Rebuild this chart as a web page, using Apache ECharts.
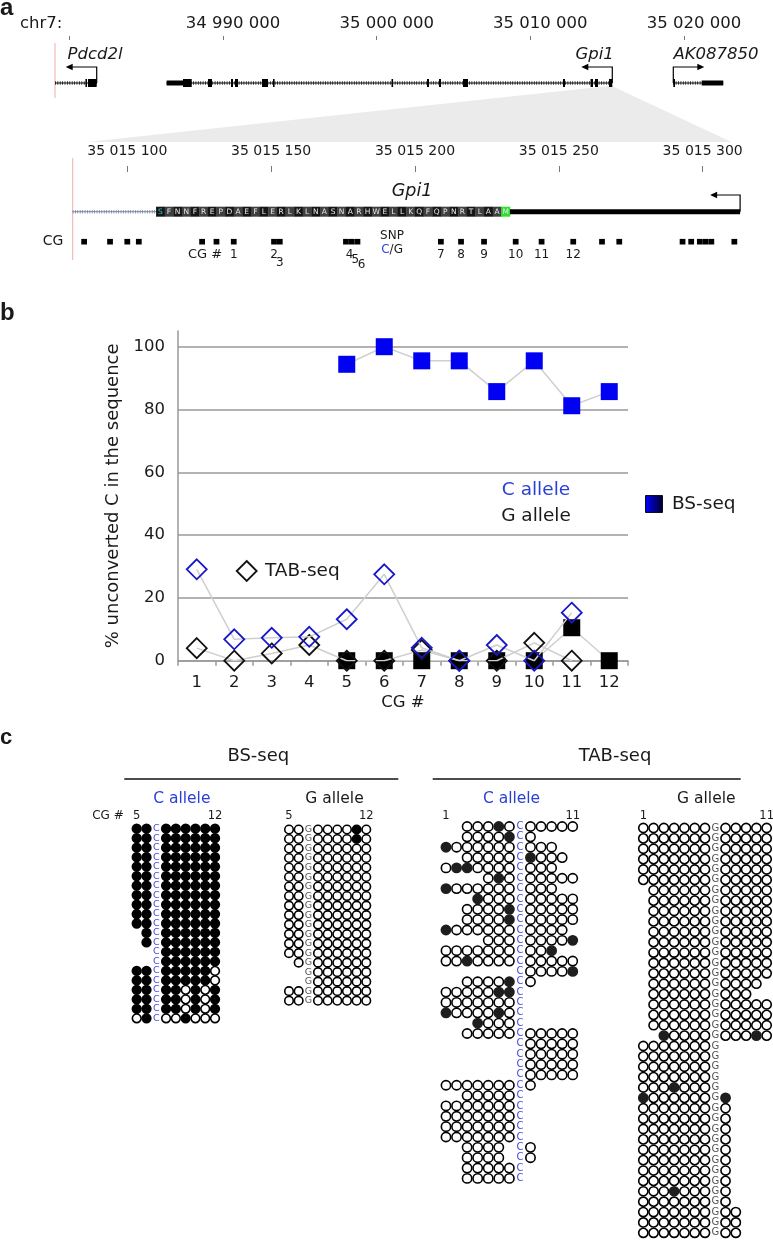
<!DOCTYPE html>
<html><head><meta charset="utf-8">
<script src="https://cdn.jsdelivr.net/npm/echarts@6.0.0/dist/echarts.min.js"></script>
<style>html,body{margin:0;padding:0;background:#fff}#c{width:773px;height:1240px}</style>
</head><body><div id="c"></div>
<script>
// ================= DATA =================
// Panel a – genome overview (chr7, bp)
const topTicks = [34980000, 34990000, 35000000, 35010000, 35020000];
const topTickLabels = [34990000, 35000000, 35010000, 35020000];
const viewStart = 34979070;
const geneNames = ['Pdcd2l', 'Gpi1', 'AK087850'];
const geneStrands = ['-', '-', '+'];
const geneSpans = [[34979070, 34981783], [34986338, 35015335], [35019305, 35022558]];
const geneLabelAt = [34981672, 35014190, 35022083];
const geneExons = [
  [[34981050, 34981130, 'c'], [34981217, 34981783, 'c']],
  [[34986338, 34987399, 'u'], [34987399, 34987965, 'c'], [34989026, 34989286, 'c'], [34990522, 34990653, 'c'],
   [34990783, 34990978, 'c'], [34992540, 34992930, 'c'], [34993256, 34993353, 'c'], [35000967, 35001065, 'c'],
   [35003277, 35003407, 'c'], [35004058, 35004188, 'c'], [35005620, 35005945, 'c'], [35012127, 35012257, 'c'],
   [35013917, 35014080, 'c'], [35014209, 35014405, 'c'], [35015121, 35015335, 'c']],
  [[35019305, 35019416, 'c'], [35021153, 35022558, 'u']]
];
const zoomRegion = [35015086, 35015310];

// Panel a – zoomed Gpi1 5' region
const zoomTicks = [35015100, 35015150, 35015200, 35015250, 35015300];
const zoomStart = 35015081;
const cdsStart = 35015110;
const cdsEnd = 35015233;
const exonEnd = 35015313;
const zoomLabelAt = 35015199;
const aminoAcids = 'SFNNFREPDAEFLERLKLNASNARHWELLKQFQPNRTLAAM';
const cgUnnumbered = [35015084, 35015093, 35015099, 35015103, 35015125, 35015130, 35015264, 35015270,
  35015292, 35015295, 35015298, 35015300, 35015302, 35015310];
const cgNumbered = [35015136, 35015150, 35015152, 35015175, 35015177, 35015179, 35015208, 35015215,
  35015223, 35015234, 35015243, 35015254];
const cgNumberLabels = ['1', '2', '3', '4', '5', '6', '7', '8', '9', '10', '11', '12'];
const cgHashAt = 35015127;
const snpPos = 35015192;

// Panel b – % unconverted C
const cgCategories = ['1', '2', '3', '4', '5', '6', '7', '8', '9', '10', '11', '12'];
const yTicks = [0, 20, 40, 60, 80, 100];
const bsC = [null, null, null, null, 94.4, 100, 95.5, 95.5, 85.7, 95.5, 81.2, 85.7];
const bsG = [null, null, null, null, 0, 0, 0, 0, 0, 0, 10.5, 0];
const tabC = [29.1, 6.8, 7.3, 7.6, 13.2, 27.5, 4.1, 0, 5.0, 0, 15.3, null];
const tabG = [4.0, 0, 2.3, 5.0, 0, 0, 3.4, 0, 0, 5.7, 0, null];

// Panel c – clone-by-clone methylation ('x' methylated, 'o' unmethylated, '.' no data, '|' SNP base)
const bsCRows = [
  'xx|xxxxxx', 'xx|xxxxxx', 'xx|xxxxxx', 'xx|xxxxxx', 'xx|xxxxxx', 'xx|xxxxxx', 'xx|xxxxxx',
  'xx|xxxxxx', 'xx|xxxxxx', 'xx|xxxxxx', 'xx|xxxxxx', '.x|xxxxxx', '.x|xxxxxx', '..|xxxxxx',
  '..|xxxxxx', 'xx|xxxxxo', 'xx|xxxxxo', 'xx|xxoxox', 'xx|xxoxox', 'xx|xxoxox', 'ox|ooxooo'
];
const bsGRows = [
  'oo|ooooxo', 'oo|ooooxo', 'oo|oooooo', 'oo|oooooo', 'oo|oooooo', 'oo|oooooo', 'oo|oooooo',
  'oo|oooooo', 'oo|oooooo', 'oo|oooooo', 'oo|oooooo', 'oo|oooooo', 'oo|oooooo', 'oo|oooooo',
  '.o|oooooo', '..|oooooo', '..|oooooo', 'oo|oooooo', 'oo|oooooo'
];
const tabCRows = [
  '..oooxo|ooooo', '..oooox|o....', 'xoooooo|ooo..', '..ooooo|xooo.', 'oxxoooo|ooo..',
  '....oxo|ooooo', 'xoooooo|ooo..', '...xooo|ooooo', '..oooox|ooooo', '..oooox|ooooo',
  'xoooooo|oooo.', '....ooo|oooox', 'ooooooo|oox..', 'ooxoooo|ooooo', '.......|oooox',
  '..oooox|o....', 'oooooxx|.....', 'ooooooo|.....', 'xooooxo|.....', '...xooo|.....',
  '..ooooo|ooooo', '.......|ooooo', '.......|ooooo', '.......|ooooo', '.......|ooooo',
  'ooooooo|o....', '..ooooo|.....', 'ooooooo|.....', 'ooooooo|.....', 'ooooooo|.....',
  'ooooooo|.....', '..oooo.|o....', '..oooo.|o....', '..ooooo|.....', '..ooooo|.....'
];
const tabGRows = [
  'ooooooo|ooooo', 'ooooooo|ooooo', 'ooooooo|ooooo', 'ooooooo|ooooo', 'ooooooo|ooooo',
  'ooooooo|ooooo', '.oooooo|ooooo', '.oooooo|ooooo', '.oooooo|ooooo', '.oooooo|ooooo',
  '.oooooo|ooooo', '.oooooo|ooooo', '.oooooo|ooooo', '.oooooo|ooooo', '.oooooo|ooooo',
  '.oooooo|oooo.', '.oooooo|ooo..', '.oooooo|ooooo', '.oooooo|ooooo', '.oooooo|ooooo',
  '..xoooo|oooxo', 'ooooooo|.....', 'ooooooo|.....', 'ooooooo|.....', 'ooooooo|.....',
  'oooxooo|.....', 'xoooooo|x....', 'ooooooo|o....', 'ooooooo|o....', 'ooooooo|o....',
  'ooooooo|o....', 'ooooooo|o....', 'ooooooo|o....', 'ooooooo|o....', 'ooooooo|o....',
  'oooxooo|o....', 'ooooooo|o....', 'ooooooo|oo...', 'ooooooo|oo...', 'ooooooo|oo...'
];

// ================= LAYOUT / RENDER =================
const FONT = '"DejaVu Sans", sans-serif';
const chart = echarts.init(document.getElementById('c'), null, { renderer: 'canvas', width: 773, height: 1240 });
const fmtBp = v => String(Math.round(v)).replace(/\B(?=(\d{3})+(?!\d))/g, ' ');

const K0 = 153.67 / 10000, topMin = 34978000, topMax = 35025000;
const K1 = 2.877, zMin = 35015060, zMax = 35015325;

const blocks = [
  { rows: bsCRows, letter: 'C', lc: '#4848e0', first: '5', last: '12', x0: 136.7, dx: 9.79, y0: 828.7, dy: 9.48, size: 8.7, fill: '#000', fs: 9.5 },
  { rows: bsGRows, letter: 'G', lc: '#555', first: '5', last: '12', x0: 289, dx: 9.66, y0: 829.5, dy: 9.51, size: 8.5, fill: '#000', fs: 9.5 },
  { rows: tabCRows, letter: 'C', lc: '#4848e0', first: '1', last: '11', x0: 446, dx: 10.56, y0: 826.5, dy: 10.35, size: 9.3, fill: '#1e1e1e', fs: 10 },
  { rows: tabGRows, letter: 'G', lc: '#555', first: '1', last: '11', x0: 643.3, dx: 10.28, y0: 828, dy: 10.38, size: 9.2, fill: '#1e1e1e', fs: 10 }
];

const grids = [
  { left: 69.3 - (34980000 - topMin) * K0, top: 36, width: (topMax - topMin) * K0, height: 60 },
  { left: 127.3 - (35015100 - zMin) * K1, top: 166, width: (zMax - zMin) * K1, height: 100 },
  { left: 178, top: 331, width: 450, height: 329.7 }
];
blocks.forEach(b => {
  const n = b.rows[0].length, m = b.rows.length;
  grids.push({ left: b.x0 - b.dx / 2, top: b.y0 - b.dy / 2, width: n * b.dx, height: m * b.dy });
});
grids.forEach(g => { g.containLabel = false; g.outerBoundsMode = 'none'; });

const xAxes = [
  { gridIndex: 0, type: 'value', min: topMin, max: topMax, position: 'top',
    axisLine: { show: false, onZero: false }, splitLine: { show: false },
    axisTick: { show: true, inside: true, length: 4, customValues: topTicks, lineStyle: { color: '#777', width: 1 } },
    axisLabel: { customValues: topTickLabels, formatter: fmtBp, fontSize: 16.5, color: '#1a1a1a', margin: 3.5, padding: [0, 0, 0, 20] } },
  { gridIndex: 1, type: 'value', min: zMin, max: zMax, position: 'top',
    axisLine: { show: false, onZero: false }, splitLine: { show: false },
    axisTick: { show: true, inside: true, length: 6, customValues: zoomTicks, lineStyle: { color: '#777', width: 1 } },
    axisLabel: { customValues: zoomTicks, formatter: fmtBp, fontSize: 14, color: '#1a1a1a', margin: 8 } },
  { gridIndex: 2, type: 'category', data: cgCategories, boundaryGap: true,
    axisLine: { show: true, onZero: false, lineStyle: { color: '#999', width: 1.5 } },
    axisTick: { show: true, alignWithLabel: false, length: 5, lineStyle: { color: '#999', width: 1.5 } },
    axisLabel: { fontSize: 16.5, color: '#1a1a1a', margin: 14, interval: 0 },
    splitLine: { show: false },
    name: 'CG #', nameLocation: 'middle', nameGap: 34, nameTextStyle: { fontSize: 16.5, color: '#1a1a1a' } }
];
const yAxes = [
  { gridIndex: 0, type: 'value', min: 0, max: 60, show: false },
  { gridIndex: 1, type: 'value', min: 0, max: 100, show: false },
  { gridIndex: 2, type: 'value', min: 0, max: 105,
    axisLine: { show: true, onZero: false, lineStyle: { color: '#999', width: 1.5 } },
    axisTick: { show: false, customValues: yTicks },
    axisLabel: { customValues: yTicks, fontSize: 16.5, color: '#1a1a1a', margin: 13 },
    splitLine: { show: true, lineStyle: { color: '#9a9a9a', width: 1.5 } },
    name: '% unconverted C in the sequence', nameLocation: 'middle', nameRotate: 90, nameGap: 54,
    nameTextStyle: { fontSize: 18, color: '#1a1a1a' } }
];
blocks.forEach((b, i) => {
  const n = b.rows[0].length, m = b.rows.length, gi = 3 + i;
  const top = b.y0 - b.dy / 2;
  xAxes.push({ gridIndex: gi, type: 'value', min: -0.5, max: n - 0.5, position: 'top',
    axisLine: { show: false, onZero: false }, axisTick: { show: false }, splitLine: { show: false },
    axisLabel: { customValues: [0, n - 1], formatter: v => (v < 0.5 ? b.first : b.last), fontSize: 11.5, color: '#1a1a1a',
      margin: top - 816 - 5.75 } });
  yAxes.push({ gridIndex: gi, type: 'value', inverse: true, min: -0.5, max: m - 0.5, show: false });
});

// ---- custom renderers ----
function renderTopGene(params, api) {
  const i = api.value(2);
  const cs = params.coordSys;
  const X = v => api.coord([v, 0])[0];
  const lineY = cs.y + 47;
  const x0 = X(geneSpans[i][0]), x1 = X(geneSpans[i][1]);
  const ch = [];
  ch.push({ type: 'line', shape: { x1: x0, y1: lineY, x2: x1, y2: lineY }, style: { stroke: '#111', lineWidth: 1 } });
  ch.push({ type: 'line', shape: { x1: x0, y1: lineY, x2: x1, y2: lineY }, style: { stroke: '#111', lineWidth: 3.5, lineDash: [0.8, 1.6] } });
  geneExons[i].forEach(e => {
    const a = X(e[0]), b = X(e[1]);
    const h = e[2] === 'u' ? 5 : 8;
    ch.push({ type: 'rect', shape: { x: a, y: lineY - h / 2, width: Math.max(b - a, 1.6), height: h }, style: { fill: '#000' } });
  });
  const plus = geneStrands[i] === '+';
  const tss = plus ? x0 : x1, dir = plus ? 1 : -1, ay = lineY - 16;
  ch.push({ type: 'polyline', shape: { points: [[tss, lineY], [tss, ay], [tss + dir * 26, ay]] }, style: { stroke: '#000', lineWidth: 1.2, fill: 'none' } });
  ch.push({ type: 'polygon', shape: { points: [[tss + dir * 31, ay], [tss + dir * 24, ay - 3.2], [tss + dir * 24, ay + 3.2]] }, style: { fill: '#000' } });
  ch.push({ type: 'text', style: { text: geneNames[i], x: X(geneLabelAt[i]), y: cs.y + 19, fill: '#1a1a1a',
    font: 'italic 16.5px ' + FONT, textAlign: 'center', textVerticalAlign: 'middle' } });
  return { type: 'group', children: ch };
}
function renderViewEdge(params, api) {
  const cs = params.coordSys;
  const x = api.coord([api.value(0), 0])[0];
  return { type: 'line', shape: { x1: x, y1: cs.y + 7, x2: x, y2: cs.y + 62 }, style: { stroke: '#f0bcbc', lineWidth: 1.2 } };
}
function renderZoomGene(params, api) {
  const cs = params.coordSys;
  const X = v => api.coord([v, 0])[0];
  const gy = cs.y + 45.7;
  const ch = [];
  const px = X(zoomStart);
  ch.push({ type: 'line', shape: { x1: px, y1: cs.y - 8, x2: px, y2: cs.y + 94 }, style: { stroke: '#f0bcbc', lineWidth: 1.2 } });
  ch.push({ type: 'line', shape: { x1: px, y1: gy, x2: X(cdsStart), y2: gy }, style: { stroke: '#7d84a6', lineWidth: 1 } });
  ch.push({ type: 'line', shape: { x1: px, y1: gy, x2: X(cdsStart), y2: gy }, style: { stroke: '#7d84a6', lineWidth: 3.5, lineDash: [0.8, 1.6] } });
  for (let k = 0; k < aminoAcids.length; k++) {
    const a = X(cdsStart + 3 * k), b = X(cdsStart + 3 * k + 3);
    const last = k === aminoAcids.length - 1;
    const bg = last ? '#2ee02e' : (k % 2 === 0 ? '#161616' : '#404040');
    ch.push({ type: 'rect', shape: { x: a, y: gy - 5, width: b - a + 0.3, height: 10 }, style: { fill: bg } });
    ch.push({ type: 'text', style: { text: aminoAcids[k], x: (a + b) / 2, y: gy + 0.5, fill: k === 0 ? '#3cc8c8' : '#e8e8e8',
      font: '7.5px ' + FONT, textAlign: 'center', textVerticalAlign: 'middle' } });
  }
  const e0 = X(cdsEnd), e1 = X(exonEnd);
  ch.push({ type: 'rect', shape: { x: e0, y: gy - 2.5, width: e1 - e0, height: 5 }, style: { fill: '#000' } });
  const ay = cs.y + 29;
  ch.push({ type: 'polyline', shape: { points: [[e1, gy], [e1, ay], [e1 - 25, ay]] }, style: { stroke: '#000', lineWidth: 1.2, fill: 'none' } });
  ch.push({ type: 'polygon', shape: { points: [[e1 - 30, ay], [e1 - 23, ay - 3.2], [e1 - 23, ay + 3.2]] }, style: { fill: '#000' } });
  ch.push({ type: 'text', style: { text: 'Gpi1', x: X(zoomLabelAt), y: cs.y + 25.7, fill: '#1a1a1a',
    font: 'italic 17.5px ' + FONT, textAlign: 'center', textVerticalAlign: 'middle' } });
  const sx = X(snpPos);
  ch.push({ type: 'text', style: { text: 'SNP', x: sx, y: cs.y + 70, fill: '#1a1a1a', font: '12px ' + FONT, textAlign: 'center', textVerticalAlign: 'middle' } });
  ch.push({ type: 'text', style: { text: 'C', x: sx - 10.8, y: cs.y + 84, fill: '#2a44d8', font: '12px ' + FONT, textAlign: 'left', textVerticalAlign: 'middle' } });
  ch.push({ type: 'text', style: { text: '/G', x: sx - 2.4, y: cs.y + 84, fill: '#1a1a1a', font: '12px ' + FONT, textAlign: 'left', textVerticalAlign: 'middle' } });
  ch.push({ type: 'text', style: { text: 'CG #', x: X(cgHashAt), y: cs.y + 89, fill: '#1a1a1a', font: '13px ' + FONT, textAlign: 'center', textVerticalAlign: 'middle' } });
  return { type: 'group', children: ch };
}
function renderCG(params, api) {
  const cs = params.coordSys;
  const a = api.coord([api.value(0), 0])[0], b = api.coord([api.value(0) + 2, 0])[0];
  return { type: 'rect', shape: { x: a, y: cs.y + 75.7 - 2.8, width: b - a, height: 5.6 }, style: { fill: '#000' } };
}
const cgDy = { '3': 8, '5': 5, '6': 10 };
const cgDx = { '4': 3.5, '5': 3.5, '6': 4 };
function renderCGLabel(params, api) {
  const cs = params.coordSys;
  const i = api.value(1);
  const lab = cgNumberLabels[i];
  const x = api.coord([api.value(0) + 1, 0])[0] + (cgDx[lab] || 0);
  return { type: 'text', style: { text: lab, x: x, y: cs.y + 89 + (cgDy[lab] || 0), fill: '#1a1a1a',
    font: '12px ' + FONT, textAlign: 'center', textVerticalAlign: 'middle' } };
}

function lineSeries(name, data, symbol, size, itemStyle, z) {
  return { name, type: 'line', xAxisIndex: 2, yAxisIndex: 2, data, symbol, symbolSize: size, showSymbol: true, showAllSymbol: true,
    lineStyle: { color: '#cfcfcf', width: 1.5 }, itemStyle, emphasis: { disabled: true }, z, connectNulls: false, silent: true };
}

const series = [
  { type: 'custom', xAxisIndex: 0, yAxisIndex: 0, data: [[viewStart, 0]], renderItem: renderViewEdge, silent: true, z: 3 },
  { type: 'custom', xAxisIndex: 0, yAxisIndex: 0, data: geneSpans.map((s, i) => [s[0], 0, i]), renderItem: renderTopGene, silent: true, z: 3 },
  { type: 'custom', xAxisIndex: 1, yAxisIndex: 1, data: [[zoomStart, 0]], renderItem: renderZoomGene, silent: true, z: 3 },
  { type: 'custom', xAxisIndex: 1, yAxisIndex: 1, data: cgUnnumbered.concat(cgNumbered).map(v => [v, 0]), renderItem: renderCG, silent: true, z: 3 },
  { type: 'custom', xAxisIndex: 1, yAxisIndex: 1, data: cgNumbered.map((v, i) => [v, i]), renderItem: renderCGLabel, silent: true, z: 3 },
  lineSeries('BS-seq G allele', bsG, 'rect', 17, { color: '#000' }, 3),
  lineSeries('TAB-seq G allele', tabG, 'diamond', 20, { color: 'rgba(0,0,0,0)', borderColor: '#111', borderWidth: 1.8 }, 4),
  lineSeries('TAB-seq C allele', tabC, 'diamond', 20, { color: 'rgba(0,0,0,0)', borderColor: '#1717c9', borderWidth: 1.8 }, 5),
  lineSeries('BS-seq C allele', bsC, 'rect', 17, { color: '#0000f2' }, 6)
];

blocks.forEach((b, i) => {
  const gi = 3 + i;
  const open = [], filled = [], letters = [];
  b.rows.forEach((row, r) => {
    for (let j = 0; j < row.length; j++) {
      const c = row[j];
      if (c === 'o') open.push([j, r]);
      else if (c === 'x') filled.push([j, r]);
      else if (c === '|') letters.push([j, r]);
    }
  });
  series.push({ type: 'scatter', xAxisIndex: gi, yAxisIndex: gi, data: open, symbol: 'circle', symbolSize: b.size,
    itemStyle: { color: '#fff', borderColor: '#000', borderWidth: 1.6, opacity: 1 }, silent: true, emphasis: { disabled: true }, z: 3 });
  series.push({ type: 'scatter', xAxisIndex: gi, yAxisIndex: gi, data: filled, symbol: 'circle', symbolSize: b.size,
    itemStyle: { color: b.fill, borderColor: b.fill, borderWidth: 1.6, opacity: 1 }, silent: true, emphasis: { disabled: true }, z: 4 });
  series.push({ type: 'scatter', xAxisIndex: gi, yAxisIndex: gi, data: letters, symbol: 'rect', symbolSize: 2,
    itemStyle: { color: 'rgba(0,0,0,0)', opacity: 1 }, silent: true, emphasis: { disabled: true }, z: 4,
    label: { show: true, position: 'inside', formatter: b.letter, color: b.lc, fontSize: b.fs, fontFamily: FONT } });
});

chart.setOption({
  animation: false,
  textStyle: { fontFamily: FONT },
  grid: grids, xAxis: xAxes, yAxis: yAxes, series
});

// ---- annotations (text, zoom connector, legends) ----
const P0 = v => chart.convertToPixel({ xAxisIndex: 0 }, v);
const P1 = v => chart.convertToPixel({ xAxisIndex: 1 }, v);
const T = (text, x, y, size, opt) => ({ type: 'text', x, y, silent: true,
  style: { text, fill: (opt && opt.fill) || '#1a1a1a', font: ((opt && opt.weight) ? opt.weight + ' ' : '') + size + 'px ' + ((opt && opt.family) || FONT),
    textAlign: (opt && opt.align) || 'center', textVerticalAlign: 'middle' } });
const HL = (x1, x2, y) => ({ type: 'line', silent: true, shape: { x1, y1: y, x2, y2: y }, style: { stroke: '#111', lineWidth: 1.5 } });

chart.setOption({
  graphic: { elements: [
    { type: 'polygon', silent: true, z: -1, shape: { points: [[P0(zoomRegion[0]), 86], [P0(zoomRegion[1]), 86], [P1(zoomRegion[1]), 142], [P1(zoomRegion[0]), 142]] },
      style: { fill: '#ebebeb' } },
    T('a', 0, 8, 24, { weight: 'bold', align: 'left', family: '"Liberation Sans", Arial, sans-serif' }),
    T('chr7:', 20, 24, 16.5, { align: 'left' }),
    T('CG', 53, 241.7, 14),
    T('b', 0, 313, 24, { weight: 'bold', align: 'left', family: '"Liberation Sans", Arial, sans-serif' }),
    { type: 'polygon', silent: true, shape: { points: [[246.7, 561], [256.7, 571], [246.7, 581], [236.7, 571]] }, style: { fill: 'none', stroke: '#111', lineWidth: 1.8 } },
    T('TAB-seq', 265, 571, 18.5, { align: 'left' }),
    T('C allele', 536, 490, 18.5, { fill: '#2a3fd6' }),
    T('G allele', 536, 516, 18.5),
    { type: 'rect', silent: true, shape: { x: 645.5, y: 495.5, width: 17, height: 17 },
      style: { fill: { type: 'linear', x: 0, y: 0, x2: 1, y2: 0, colorStops: [{ offset: 0, color: '#0000ff' }, { offset: 1, color: '#00002a' }] }, stroke: '#111', lineWidth: 1 } },
    T('BS-seq', 672, 504, 18.5, { align: 'left' }),
    T('c', 0, 738, 22, { weight: 'bold', align: 'left', family: '"Liberation Sans", Arial, sans-serif' }),
    T('BS-seq', 258.3, 756.7, 18),
    HL(124.3, 398.3, 779),
    T('TAB-seq', 615, 756.7, 18),
    HL(432.7, 740.7, 779),
    T('C allele', 181.8, 799, 15.5, { fill: '#2a3fd6' }),
    T('G allele', 334.5, 799, 15.5),
    T('C allele', 511.5, 799, 15.5, { fill: '#2a3fd6' }),
    T('G allele', 706.3, 799, 15.5),
    T('CG #', 108, 816, 12)
  ] }
});
</script></body></html>
